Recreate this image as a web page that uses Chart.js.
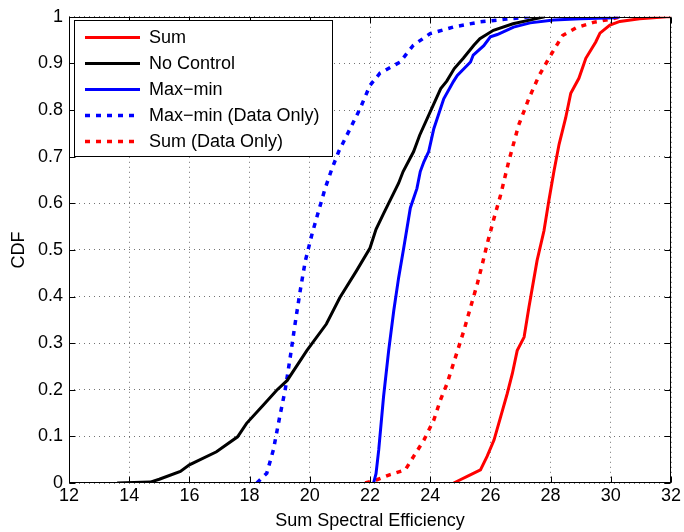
<!DOCTYPE html>
<html>
<head>
<meta charset="utf-8">
<script src="https://cdn.jsdelivr.net/npm/chart.js@4.4.1/dist/chart.umd.min.js"></script>
<style>
  html, body { margin: 0; padding: 0; background: #fff; }
  #wrap { width: 684px; height: 532px; }
</style>
</head>
<body>
<div id="wrap"><canvas id="cdfChart" width="684" height="532"></canvas></div>
<script>
// axis ticks
const xTicks = [12, 14, 16, 18, 20, 22, 24, 26, 28, 30, 32];
const yTicks = [0, 0.1, 0.2, 0.3, 0.4, 0.5, 0.6, 0.7, 0.8, 0.9, 1];

const seriesLabels = ["Sum", "No Control", "Max\u2212min", "Max\u2212min (Data Only)", "Sum (Data Only)"];

// CDF curves
const sumX = [24.78, 25.0, 25.23, 25.67, 25.89, 26.12, 26.34, 26.56, 26.73, 26.89, 27.12, 27.28, 27.45, 27.55, 27.78, 27.94, 28.11, 28.28, 28.5, 28.67, 28.94, 29.17, 29.5, 29.64, 29.97, 30.3, 30.96, 31.86, 32];
const sumY = [0, 0.007, 0.014, 0.028, 0.057, 0.092, 0.142, 0.192, 0.235, 0.284, 0.313, 0.377, 0.44, 0.477, 0.541, 0.605, 0.668, 0.726, 0.783, 0.836, 0.868, 0.911, 0.946, 0.965, 0.982, 0.99, 0.996, 1.0, 1.0];

const noCtrlX = [13.6, 14.7, 15.0, 15.7, 16.0, 16.9, 17.6, 17.9, 18.45, 18.9, 19.25, 19.9, 20.55, 21.0, 21.55, 22.0, 22.2, 22.45, 22.95, 23.1, 23.45, 23.65, 24.0, 24.35, 24.55, 24.8, 25.1, 25.45, 25.65, 26.1, 26.75, 27.45, 27.8];
const noCtrlY = [0, 0.002, 0.008, 0.025, 0.039, 0.067, 0.099, 0.128, 0.167, 0.199, 0.22, 0.284, 0.341, 0.398, 0.455, 0.504, 0.544, 0.578, 0.643, 0.668, 0.711, 0.746, 0.796, 0.846, 0.862, 0.889, 0.911, 0.939, 0.953, 0.971, 0.985, 0.995, 1.0];

const maxMinX = [22.12, 22.2, 22.29, 22.45, 22.62, 22.79, 22.95, 23.12, 23.34, 23.56, 23.67, 23.79, 23.95, 24.12, 24.45, 24.77, 24.9, 25.34, 25.43, 25.78, 26.0, 26.23, 26.77, 27.32, 28.1, 29.0, 30.1, 30.3];
const maxMinY = [0, 0.02, 0.071, 0.185, 0.284, 0.37, 0.44, 0.504, 0.59, 0.632, 0.668, 0.689, 0.711, 0.76, 0.824, 0.861, 0.874, 0.903, 0.918, 0.938, 0.957, 0.962, 0.978, 0.987, 0.993, 0.996, 0.998, 1.0];

const maxMinDataX = [18.24, 18.57, 18.79, 19.0, 19.18, 19.35, 19.51, 19.68, 19.85, 20.07, 20.29, 20.51, 20.74, 20.96, 21.34, 21.67, 22.0, 22.33, 23.0, 23.44, 24.0, 24.77, 25.65, 26.54, 27.3];
const maxMinDataY = [0, 0.021, 0.071, 0.142, 0.199, 0.27, 0.341, 0.412, 0.476, 0.533, 0.583, 0.632, 0.675, 0.711, 0.76, 0.803, 0.853, 0.879, 0.903, 0.939, 0.964, 0.978, 0.989, 0.995, 1.0];

const sumDataX = [21.84, 22.23, 22.67, 23.17, 23.45, 23.79, 24.12, 24.34, 24.56, 24.84, 25.12, 25.34, 25.56, 25.73, 25.89, 26.12, 26.34, 26.61, 26.94, 27.28, 27.61, 27.96, 28.4, 28.87, 29.42, 30.08, 30.3];
const sumDataY = [0, 0.007, 0.018, 0.028, 0.057, 0.092, 0.135, 0.178, 0.213, 0.27, 0.327, 0.377, 0.426, 0.469, 0.512, 0.568, 0.618, 0.69, 0.768, 0.825, 0.873, 0.913, 0.96, 0.977, 0.988, 0.996, 1.0];

function points(xs, ys) {
    return xs.map((x, i) => ({ x: x, y: ys[i] }));
}

const FONT = "'Liberation Sans', Arial, Helvetica, sans-serif";
Chart.defaults.color = "#000";
Chart.defaults.font.family = FONT;
Chart.defaults.font.size = 18;

function line(label, xs, ys, color, dashed) {
    return {
        label: label,
        data: points(xs, ys),
        borderColor: color,
        backgroundColor: color,
        borderWidth: dashed ? 3.5 : 3,
        borderDash: dashed ? [5, 6] : [],
        pointRadius: 0,
        tension: 0,
        fill: false
    };
}

// matlab style box, inward ticks and the legend inside the axes
const axesBox = {
    id: "axesBox",
    afterDatasetsDraw(chart) {
        const ctx = chart.ctx;
        const a = chart.chartArea;
        const sx = chart.scales.x, sy = chart.scales.y;
        const L = Math.round(a.left) + 0.5, R = Math.round(a.right) - 0.5;
        const T = Math.round(a.top) + 0.5, B = Math.round(a.bottom) - 0.5;
        ctx.save();
        ctx.strokeStyle = "#000";
        ctx.lineWidth = 1;
        ctx.strokeRect(L, T, R - L, B - T);
        ctx.beginPath();
        xTicks.forEach(v => {
            const px = Math.round(sx.getPixelForValue(v)) + 0.5;
            ctx.moveTo(px, B); ctx.lineTo(px, B - 6);
            ctx.moveTo(px, T); ctx.lineTo(px, T + 6);
        });
        yTicks.forEach(v => {
            const py = Math.round(sy.getPixelForValue(v)) + 0.5;
            ctx.moveTo(L, py); ctx.lineTo(L + 6, py);
            ctx.moveTo(R, py); ctx.lineTo(R - 6, py);
        });
        ctx.stroke();

        // legend
        const bx = 74.5, by = 20.5, bw = 258, bh = 136;
        ctx.fillStyle = "#fff";
        ctx.fillRect(bx, by, bw, bh);
        ctx.strokeRect(bx, by, bw, bh);
        ctx.font = "18px " + FONT;
        ctx.textBaseline = "middle";
        ctx.textAlign = "left";
        chart.data.datasets.forEach((ds, i) => {
            const ry = 37.5 + i * 26;
            ctx.beginPath();
            ctx.strokeStyle = ds.borderColor;
            ctx.lineWidth = ds.borderWidth;
            ctx.setLineDash(ds.borderDash);
            ctx.moveTo(85, ry);
            ctx.lineTo(140, ry);
            ctx.stroke();
            ctx.setLineDash([]);
            ctx.fillStyle = "#000";
            ctx.fillText(ds.label, 149, ry + 1);
        });
        ctx.restore();
    }
};

new Chart(document.getElementById("cdfChart"), {
    type: "line",
    data: {
        datasets: [
            line(seriesLabels[0], sumX, sumY, "#ff0000", false),
            line(seriesLabels[1], noCtrlX, noCtrlY, "#000000", false),
            line(seriesLabels[2], maxMinX, maxMinY, "#0000ff", false),
            line(seriesLabels[3], maxMinDataX, maxMinDataY, "#0000ff", true),
            line(seriesLabels[4], sumDataX, sumDataY, "#ff0000", true)
        ]
    },
    options: {
        responsive: false,
        animation: false,
        devicePixelRatio: 1,
        layout: { padding: { left: 0, right: 13, top: 15, bottom: 0 } },
        plugins: {
            legend: { display: false },
            tooltip: { enabled: false }
        },
        scales: {
            x: {
                type: "linear",
                min: 12,
                max: 32,
                afterBuildTicks: s => { s.ticks = xTicks.map(v => ({ value: v })); },
                afterFit: s => { s.height = 49; },
                ticks: { padding: 2, maxRotation: 0, callback: v => String(v) },
                grid: { color: "rgba(0,0,0,0.55)", lineWidth: 1, drawTicks: false },
                border: { display: false, dash: [1, 4] },
                title: { display: true, text: "Sum Spectral Efficiency", padding: { top: 2, bottom: 0 } }
            },
            y: {
                type: "linear",
                min: 0,
                max: 1,
                afterBuildTicks: s => { s.ticks = yTicks.map(v => ({ value: v })); },
                afterFit: s => { s.width = 69; },
                ticks: { padding: 6, callback: v => String(v) },
                grid: { color: "rgba(0,0,0,0.55)", lineWidth: 1, drawTicks: false },
                border: { display: false, dash: [1, 4] },
                title: { display: true, text: "CDF", padding: { top: 8, bottom: 0 } }
            }
        }
    },
    plugins: [axesBox]
});
</script>
</body>
</html>
